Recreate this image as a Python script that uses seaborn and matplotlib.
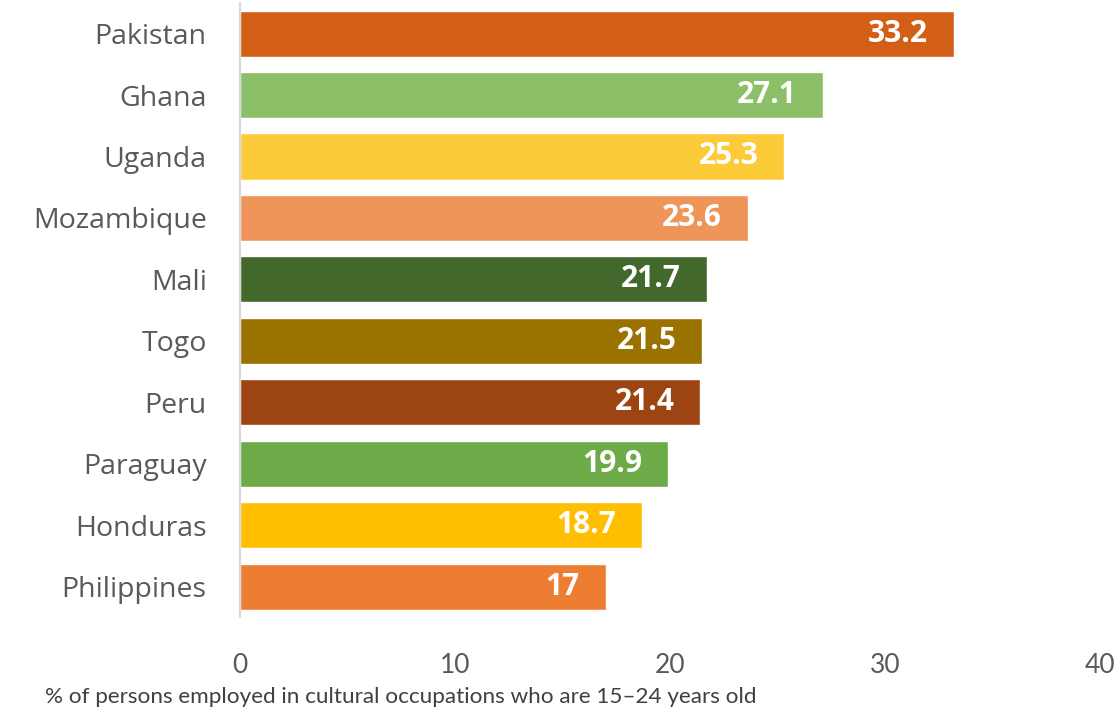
import matplotlib
matplotlib.use('Agg')
import matplotlib.pyplot as plt
import seaborn as sns
import pandas as pd

# data
countries = ['Pakistan', 'Ghana', 'Uganda', 'Mozambique', 'Mali',
             'Togo', 'Peru', 'Paraguay', 'Honduras', 'Philippines']
shares = [33.2, 27.1, 25.3, 23.6, 21.7, 21.5, 21.4, 19.9, 18.7, 17]
value_labels = ['33.2', '27.1', '25.3', '23.6', '21.7', '21.5', '21.4', '19.9', '18.7', '17']
bar_colors = ['#D35F16', '#8CC068', '#FBCB3A', '#F0955A', '#43682B',
              '#9A7200', '#9C4512', '#6DAB48', '#FFBF00', '#ED7D31']
x_ticks = [0, 10, 20, 30, 40]

df = pd.DataFrame({'country': countries, 'share': shares})

sns.set_style('white')
plt.rcParams['font.family'] = ['Lato', 'DejaVu Sans']

fig = plt.figure(figsize=(11.2, 7.12), dpi=100)
ax = fig.add_axes([0.2143, 0.133, 0.768, 0.863])

sns.barplot(data=df, x='share', y='country', hue='country', palette=bar_colors,
            legend=False, width=0.75, saturation=1, ax=ax)

# value labels inside the bar ends
for i, (v, lab) in enumerate(zip(shares, value_labels)):
    ax.text(v - 1.2, i, lab, ha='right', va='center', color='white',
            fontsize=21.5, fontweight='bold', family=['Open Sans', 'DejaVu Sans'])

ax.set_xlim(0, 40)
ax.set_ylim(9.5, -0.5)
ax.set_xticks(x_ticks)
ax.set_xticklabels([str(t) for t in x_ticks], fontsize=19, color='#595959')
ax.tick_params(axis='x', length=0, pad=26)
ax.tick_params(axis='y', length=0, pad=24)
for lab in ax.get_yticklabels():
    lab.set_fontsize(20.5)
    lab.set_color('#595959')
    lab.set_family(['Open Sans', 'DejaVu Sans'])

ax.set_ylabel('')
ax.set_xlabel('% of persons employed in cultural occupations who are 15\u201324 years old',
              fontsize=16.2, color='#404040')
ax.xaxis.set_label_coords(0.187, -0.113)

for side in ['top', 'right', 'bottom']:
    ax.spines[side].set_visible(False)
ax.spines['left'].set_color('#D9D9D9')
ax.spines['left'].set_linewidth(1.5)

fig.savefig('out.png', dpi=100)
